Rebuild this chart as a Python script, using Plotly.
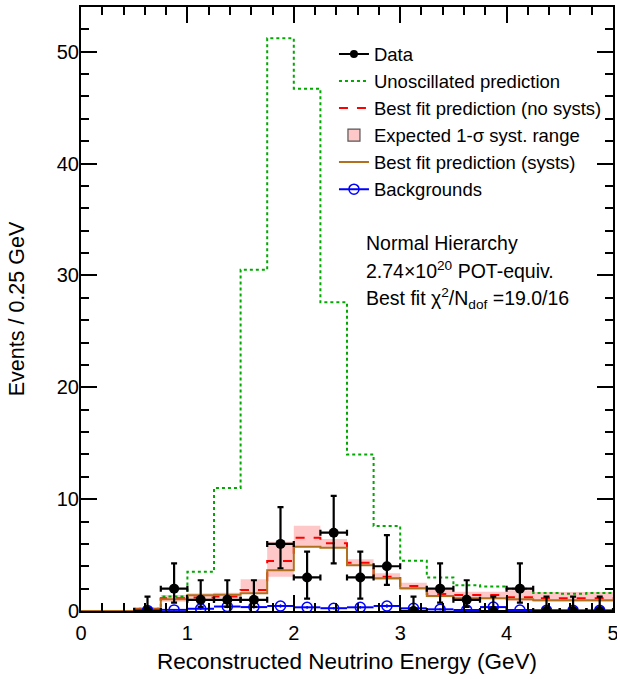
import plotly.graph_objects as go

# ---------------- data ----------------
bin_width = 0.25
# histogram bin edges for the 20 prediction bins (0 - 5 GeV)
hist_edges = [0.0, 0.25, 0.5, 0.75, 1.0, 1.25, 1.5, 1.75, 2.0, 2.25,
              2.5, 2.75, 3.0, 3.25, 3.5, 3.75, 4.0, 4.25, 4.5, 4.75, 5.0]

unosc = [0, 0, 0.2, 1.3, 3.5, 11.0, 30.5, 51.2, 46.7, 27.6,
         14.0, 7.6, 4.5, 3.0, 2.3, 2.2, 2.0, 1.6, 1.55, 1.6]
best_nosyst = [0, 0, 0.2, 1.15, 1.2, 1.3, 1.88, 4.47, 6.56, 6.05,
               4.32, 3.07, 2.24, 1.52, 1.43, 1.43, 1.22, 1.13, 1.15, 1.15]
best_syst = [0, 0, 0.15, 1.05, 1.4, 1.45, 1.58, 3.65, 5.75, 5.66,
             4.1, 2.93, 2.03, 1.34, 1.13, 1.13, 1.05, 0.95, 0.95, 0.95]
band_lo = [0, 0, 0.1, 0.83, 1.0, 1.13, 1.58, 3.07, 5.75, 5.66,
           4.02, 2.77, 1.88, 1.22, 1.05, 1.05, 0.9, 0.82, 0.82, 0.82]
band_hi = [0, 0, 0.25, 1.43, 1.58, 1.64, 2.83, 6.2, 7.63, 6.44,
           4.62, 3.37, 2.53, 1.88, 1.73, 1.73, 1.85, 1.7, 1.7, 1.7]

# data / background points at bin centres (0.5 - 5 GeV)
point_x = [0.625, 0.875, 1.125, 1.375, 1.625, 1.875, 2.125, 2.375, 2.625,
           2.875, 3.125, 3.375, 3.625, 3.875, 4.125, 4.375, 4.625, 4.875]
data_n = [0, 2, 1, 1, 1, 6, 3, 7, 3, 4, 0, 2, 1, 0, 2, 0, 0, 0]
data_lo = [0, 0.74, 0.37, 0.37, 0.37, 3.82, 1.10, 4.25, 1.10,
           2.34, 0, 0.74, 0.37, 0, 0.74, 0, 0, 0]
data_hi = [1.29, 4.25, 2.75, 2.75, 2.75, 9.28, 5.30, 10.30, 5.30,
           6.78, 1.29, 4.25, 2.75, 1.29, 4.25, 1.29, 1.29, 1.29]
bkg = [0.05, 0.1, 0.2, 0.4, 0.35, 0.45, 0.33, 0.25, 0.33,
       0.45, 0.24, 0.15, 0.09, 0.35, 0.09, 0.07, 0.06, 0.06]
bkg_err = [0.05, 0.08, 0.1, 0.15, 0.12, 0.15, 0.12, 0.1, 0.12,
           0.15, 0.1, 0.08, 0.06, 0.12, 0.06, 0.05, 0.05, 0.05]

x_ticks = [0, 1, 2, 3, 4, 5]
y_ticks = [0, 10, 20, 30, 40, 50]

x_title = "Reconstructed Neutrino Energy (GeV)"
y_title = "Events / 0.25 GeV"
notes = ["Normal Hierarchy",
         "2.74×10<sup>20</sup> POT-equiv.",
         "Best fit χ<sup>2</sup>/N<sub>dof</sub> =19.0/16"]

# ---------------- helpers ----------------
def step(vals):
    return vals + [vals[-1]]

FONT = "Liberation Sans, Arial, Helvetica, sans-serif"
GREEN = "#00a800"
RED = "#ff0000"
BROWN = "#b0701e"
PINK = "#ffc8c8"
BLUE = "#0000ff"

fig = go.Figure()

# systematic band
fig.add_trace(go.Scatter(x=hist_edges, y=step(band_lo), mode="lines",
                         line=dict(shape="hv", width=0, color=PINK),
                         showlegend=False, hoverinfo="skip"))
fig.add_trace(go.Scatter(x=hist_edges, y=step(band_hi), mode="lines",
                         line=dict(shape="hv", width=0, color=PINK),
                         fill="tonexty", fillcolor=PINK,
                         showlegend=False))
fig.add_trace(go.Bar(x=[None], y=[None], name="Expected 1-σ syst. range",
                     marker=dict(color=PINK, line=dict(color="#555555", width=1.2)),
                     legendrank=4))

# unoscillated
fig.add_trace(go.Scatter(x=hist_edges, y=step(unosc), mode="lines",
                         line=dict(shape="hv", width=2, color=GREEN, dash="dot"),
                         name="Unoscillated prediction", legendrank=2))
# best fit no systs
fig.add_trace(go.Scatter(x=hist_edges, y=step(best_nosyst), mode="lines",
                         line=dict(shape="hv", width=2, color=RED, dash="dash"),
                         name="Best fit prediction (no systs)", legendrank=3))
# best fit systs
fig.add_trace(go.Scatter(x=hist_edges, y=step(best_syst), mode="lines",
                         line=dict(shape="hv", width=2, color=BROWN),
                         name="Best fit prediction (systs)", legendrank=5))

# backgrounds
fig.add_trace(go.Scatter(x=point_x, y=bkg, mode="markers",
                         marker=dict(symbol="circle-open", size=10, color=BLUE,
                                     line=dict(width=1.5, color=BLUE)),
                         error_x=dict(type="constant", value=bin_width / 2,
                                      color=BLUE, thickness=2, width=0),
                         error_y=dict(type="data", array=bkg_err,
                                      color=BLUE, thickness=1.5, width=0),
                         showlegend=False))
fig.add_trace(go.Scatter(x=[None], y=[None], mode="lines+markers",
                         marker=dict(symbol="circle-open", size=10, color=BLUE,
                                     line=dict(width=1.5, color=BLUE)),
                         line=dict(color=BLUE, width=2),
                         name="Backgrounds", legendrank=6))

# data
err_up = [h - n for h, n in zip(data_hi, data_n)]
err_dn = [n - l for n, l in zip(data_n, data_lo)]
fig.add_trace(go.Scatter(x=point_x, y=data_n, mode="markers",
                         marker=dict(symbol="circle", size=10, color="black"),
                         error_x=dict(type="constant", value=bin_width / 2,
                                      color="black", thickness=2.2, width=3),
                         error_y=dict(type="data", symmetric=False,
                                      array=err_up, arrayminus=err_dn,
                                      color="black", thickness=2.2, width=3),
                         showlegend=False))
fig.add_trace(go.Scatter(x=[None], y=[None], mode="lines+markers",
                         marker=dict(symbol="circle", size=8, color="black"),
                         line=dict(color="black", width=2),
                         name="Data", legendrank=1))

axis_common = dict(showline=True, linecolor="black", linewidth=2, mirror="ticks",
                   ticks="inside", ticklen=16, tickwidth=2, tickcolor="black",
                   showgrid=False, zeroline=False, automargin=False,
                   ticklabeloverflow="allow",
                   tickfont=dict(family=FONT, size=20, color="black"))

fig.update_xaxes(range=[0, 5], tickvals=x_ticks, ticktext=[str(v) for v in x_ticks],
                 minor=dict(ticks="inside", ticklen=8, tickwidth=2, dtick=0.2,
                            tickcolor="black", showgrid=False),
                 title=dict(text=x_title, font=dict(family=FONT, size=22.5, color="black"),
                            standoff=10),
                 ticklabelstandoff=3,
                 **axis_common)
fig.update_yaxes(range=[0, 54], tickvals=y_ticks, ticktext=[str(v) for v in y_ticks],
                 minor=dict(ticks="inside", ticklen=8, tickwidth=2, dtick=2,
                            tickcolor="black", showgrid=False),
                 title=dict(text=y_title, font=dict(family=FONT, size=21.5, color="black"),
                            standoff=26),
                 ticklabelstandoff=-4,
                 **axis_common)

for i, t in enumerate(notes):
    fig.add_annotation(xref="paper", yref="paper", x=0.5324, y=[0.609, 0.564, 0.518][i],
                       xanchor="left", yanchor="middle", text=t, showarrow=False,
                       font=dict(family=FONT, size=19.5, color="black"))

fig.update_layout(
    width=617, height=679,
    margin=dict(l=81, r=4, t=7, b=68, autoexpand=False),
    paper_bgcolor="white", plot_bgcolor="white",
    font=dict(family=FONT, color="black"),
    showlegend=True,
    legend=dict(x=0.4755, y=0.953, xanchor="left", yanchor="top",
                bgcolor="rgba(0,0,0,0)", borderwidth=0,
                font=dict(family=FONT, size=18.5, color="black"),
                traceorder="normal"),
)

fig.write_html("out.html",
               config={"displayModeBar": False},
               post_script="document.body.style.margin='0';document.body.style.padding='0';")
